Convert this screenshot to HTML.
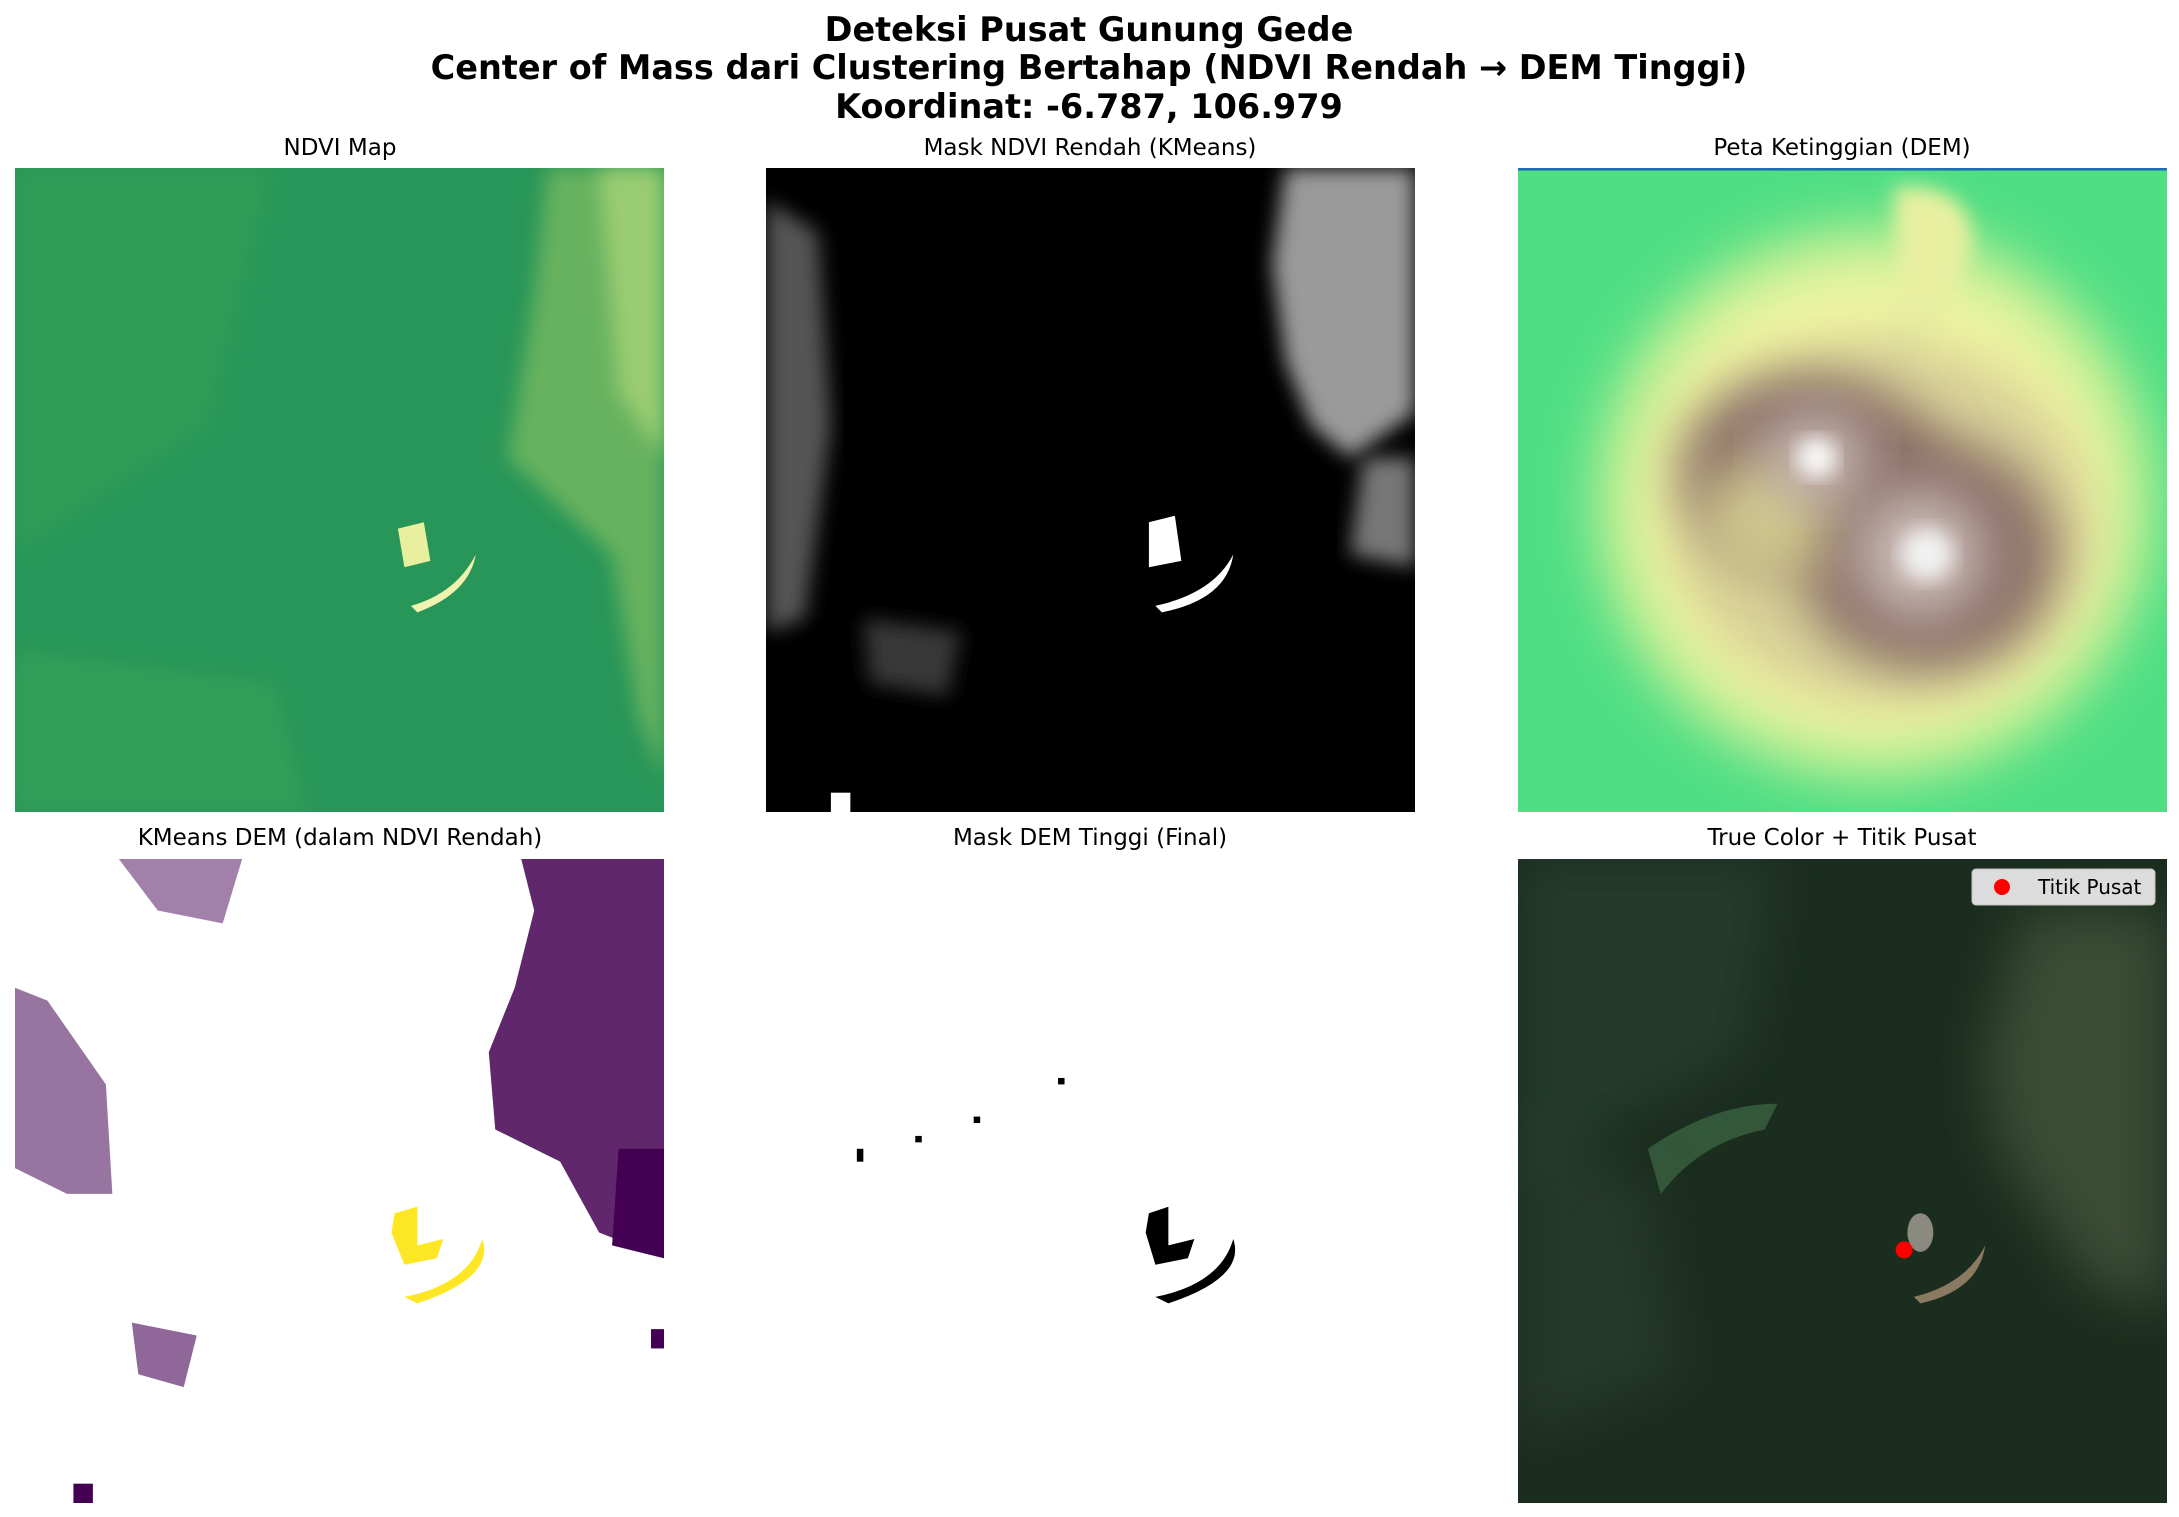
<!DOCTYPE html>
<html><head><meta charset="utf-8"><style>
html,body{margin:0;padding:0;background:#fff}
svg{display:block;font-family:"DejaVu Sans","Liberation Sans",sans-serif}
</style></head><body>
<svg width="2179" height="1517" viewBox="0 0 2179 1517">
<defs>
<filter id="b2" x="-20%" y="-20%" width="140%" height="140%"><feGaussianBlur stdDeviation="1.5"/></filter>
<filter id="b5" x="-30%" y="-30%" width="160%" height="160%"><feGaussianBlur stdDeviation="4"/></filter>
<clipPath id="cp"><rect x="0" y="0" width="100" height="100"/></clipPath>
</defs>
<g font-weight="bold" font-size="33.5" text-anchor="middle" fill="#000">
<text x="1089" y="41">Deteksi Pusat Gunung Gede</text>
<text x="1089" y="79">Center of Mass dari Clustering Bertahap (NDVI Rendah → DEM Tinggi)</text>
<text x="1089" y="118">Koordinat: -6.787, 106.979</text>
</g>
<g font-size="23" text-anchor="middle" fill="#000">
<text x="340" y="155">NDVI Map</text>
<text x="1090" y="155">Mask NDVI Rendah (KMeans)</text>
<text x="1842" y="155">Peta Ketinggian (DEM)</text>
<text x="340" y="845">KMeans DEM (dalam NDVI Rendah)</text>
<text x="1090" y="845">Mask DEM Tinggi (Final)</text>
<text x="1842" y="845">True Color + Titik Pusat</text>
</g>

<!-- Panel 1 NDVI -->
<g transform="translate(15,168) scale(6.49,6.44)" clip-path="url(#cp)">
<rect width="100" height="100" fill="#23925a"/>
<rect width="100" height="100" fill="#2d9a56" opacity="0.5"/>
<path d="M0 0 H40 L30 40 L0 60Z" fill="#3aa557" opacity="0.4" filter="url(#b2)"/>
<path d="M0 75 L40 80 L45 100 H0Z" fill="#45aa5a" opacity="0.4" filter="url(#b2)"/>
<path d="M82 0 H100 V95 L96 85 L92 60 L76 45 L80 20Z" fill="#7cbc62" opacity="0.75" filter="url(#b2)"/>
<path d="M90 0 H100 V45 L93 35Z" fill="#b0d87c" opacity="0.7" filter="url(#b2)"/>
<path d="M59 56 L63 55 L64 61 L60 62Z" fill="#e8f0a0"/>
<path d="M61 68 Q68 66 71 60 Q70 66 62 69Z" fill="#f0f2b0"/>
</g>

<!-- Panel 2 Mask NDVI -->
<g transform="translate(766,168) scale(6.49,6.44)" clip-path="url(#cp)">
<rect width="100" height="100" fill="#000"/>
<path d="M80 0 H100 V38 L90 45 L84 40 L80 30 L78 15Z" fill="#9a9a9a" filter="url(#b2)"/>
<path d="M92 45 H100 V62 L90 60Z" fill="#777" filter="url(#b2)"/>
<path d="M0 5 L8 10 L10 40 L6 70 L0 72Z" fill="#555" filter="url(#b2)"/>
<path d="M15 70 L30 72 L28 82 L16 80Z" fill="#383838" filter="url(#b2)"/>
<path d="M59 55 L63 54 L64 61 L59 62Z" fill="#fff"/>
<path d="M60 68 Q69 66 72 60 Q71 67 61 69Z" fill="#fff"/>
<rect x="10" y="97" width="3" height="3" fill="#fff"/>
</g>

<!-- Panel 3 DEM -->
<g transform="translate(1518,168) scale(6.49,6.44)" clip-path="url(#cp)">
<rect width="100" height="100" fill="#4fde84"/>
<rect width="100" height="0.4" fill="#1f6fb0"/>
<ellipse cx="55" cy="52" rx="44" ry="44" fill="#a8ec90" filter="url(#b5)"/>
<ellipse cx="55" cy="52" rx="38" ry="38" fill="#eef4a0" filter="url(#b5)"/>
<path d="M58 3 Q70 2 70 12 Q66 24 60 32 L54 30 Q60 20 58 10Z" fill="#e8f0a0" filter="url(#b2)"/>
<ellipse cx="56" cy="55" rx="32" ry="28" fill="#d8d098" filter="url(#b5)"/>
<ellipse cx="45" cy="47" rx="20" ry="15" fill="#8a6e66" filter="url(#b5)"/>
<ellipse cx="63" cy="60" rx="20" ry="18" fill="#8a6e66" filter="url(#b5)"/>
<ellipse cx="38" cy="55" rx="10" ry="10" fill="#cfc58c" filter="url(#b5)"/>
<ellipse cx="46" cy="45" rx="8" ry="7" fill="#c8b8b4" filter="url(#b5)"/>
<ellipse cx="62" cy="60" rx="10" ry="10" fill="#c8b8b4" filter="url(#b5)"/>
<ellipse cx="46" cy="45" rx="3" ry="3" fill="#fafafa" filter="url(#b2)"/>
<ellipse cx="63" cy="60" rx="4" ry="4" fill="#f2f2f2" filter="url(#b2)"/>
</g>

<!-- Panel 4 KMeans DEM -->
<g transform="translate(15,859) scale(6.49,6.44)" clip-path="url(#cp)">
<rect width="100" height="100" fill="#fff"/>
<g fill="#440154">
<path d="M78 0 H100 V62 L90 58 L84 47 L74 42 L73 30 L77 20 L80 8Z" opacity="0.85"/>
<path d="M93 45 H100 V62 L92 60Z"/>
<path d="M0 20 L5 22 L14 35 L15 52 L8 52 L0 48Z" opacity="0.55"/>
<path d="M18 72 L28 74 L26 82 L19 80Z" opacity="0.6"/>
<path d="M16 0 L35 0 L32 10 L22 8Z" opacity="0.5"/>
<rect x="9" y="97" width="3" height="3"/>
<rect x="98" y="73" width="2" height="3"/>
</g>
<path d="M58.5 55 L62 54 L62 60 L66 59 L65 62 L60 63 L58 58Z" fill="#fde725"/>
<path d="M60 68 Q70 66 72 59 Q74 65 62 69Z" fill="#fde725"/>
</g>

<!-- Panel 5 Mask DEM -->
<g transform="translate(766,859) scale(6.49,6.44)" clip-path="url(#cp)">
<rect width="100" height="100" fill="#fff"/>
<path d="M59 55 L62 54 L62 60 L66 59 L65 62 L60 63 L58.5 58Z" fill="#000"/>
<path d="M60 68 Q70 66 72 59 Q74 65 62 69Z" fill="#000"/>
<g fill="#000"><rect x="14" y="45" width="1" height="2"/><rect x="23" y="43" width="1" height="1"/><rect x="32" y="40" width="1" height="1"/><rect x="45" y="34" width="1" height="1"/></g>
</g>

<!-- Panel 6 True color -->
<g transform="translate(1518,859) scale(6.49,6.44)" clip-path="url(#cp)">
<rect width="100" height="100" fill="#1b2d1f"/>
<path d="M0 0 H40 L35 30 L0 50Z" fill="#2a4435" opacity="0.6" filter="url(#b5)"/>
<path d="M0 40 L20 50 L25 80 L0 90Z" fill="#2e4438" opacity="0.5" filter="url(#b5)"/>
<path d="M78 8 H100 V70 L88 66 L74 45 L72 30Z" fill="#4a5a3e" opacity="0.7" filter="url(#b5)"/>
<path d="M20 45 Q30 38 40 38 L38 42 Q28 44 22 52Z" fill="#3e6a45" opacity="0.7"/>
<path d="M61 68 Q69 66 72 60 Q71 67 62 69Z" fill="#8a7a62"/>
<ellipse cx="62" cy="58" rx="2" ry="3" fill="#8a8a80"/>
</g>
<g>
<rect x="1972" y="869" width="183" height="36" rx="4" fill="#e6e6e6" stroke="#ccc" opacity="0.95"/>
<circle cx="2002" cy="887" r="8" fill="#ff0000"/>
<text x="2038" y="894" font-size="20" fill="#000">Titik Pusat</text>
</g>
<g id="marker-layer"></g>
</svg>
<script>
const centerU = [59.5];
const centerV = [60.7];
const layer = document.getElementById('marker-layer');
function sx(u){return 1518 + u*6.49;}
function sy(v){return 859 + v*6.44;}
for (let i=0;i<centerU.length;i++){
  const c = document.createElementNS('http://www.w3.org/2000/svg','circle');
  c.setAttribute('cx', sx(centerU[i]));
  c.setAttribute('cy', sy(centerV[i]));
  c.setAttribute('r', 8.5);
  c.setAttribute('fill', '#ff0000');
  
  
  layer.appendChild(c);
}
</script>
</body></html>
